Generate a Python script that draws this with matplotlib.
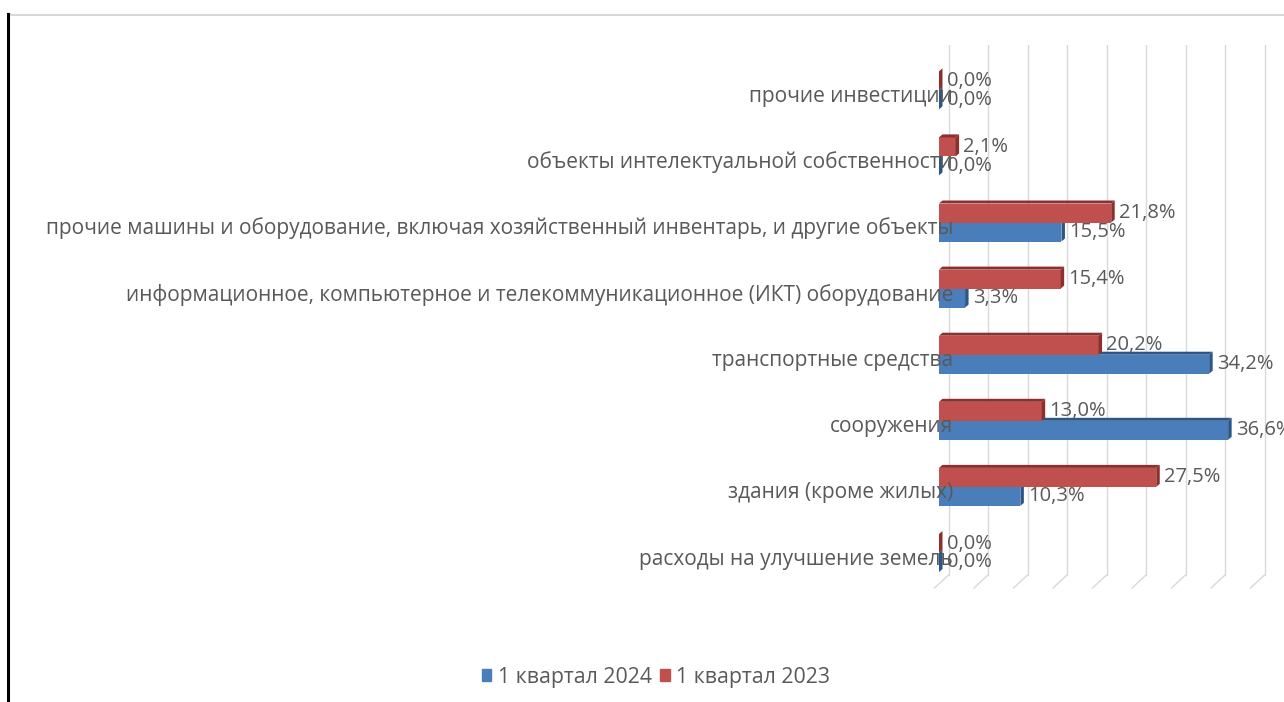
import matplotlib
matplotlib.use("Agg")
import matplotlib.pyplot as plt
from matplotlib.patches import Polygon
from matplotlib.transforms import ScaledTranslation
from matplotlib.lines import Line2D
import matplotlib.font_manager as fm

categories = [
    "расходы на улучшение земель",
    "здания (кроме жилых)",
    "сооружения",
    "транспортные средства",
    "информационное, компьютерное и телекоммуникационное (ИКТ) оборудование",
    "прочие машины и оборудование, включая хозяйственный инвентарь, и другие объекты",
    "объекты интелектуальной собственности",
    "прочие инвестиции",
]
q1_2024 = [0.0, 10.3, 36.6, 34.2, 3.3, 15.5, 0.0, 0.0]
q1_2023 = [0.0, 27.5, 13.0, 20.2, 15.4, 21.8, 2.1, 0.0]
series_names = ["1 квартал 2024", "1 квартал 2023"]
grid_ticks = [0, 5, 10, 15, 20, 25, 30, 35, 40]

BLUE, BLUE_D = "#4a7ebb", "#2c5687"
RED, RED_D = "#c0504d", "#8c2f2d"
TXT = "#595959"

names = {f.name for f in fm.fontManager.ttflist}
FONT = "Open Sans" if "Open Sans" in names else "DejaVu Sans"

W, H, DPI = 1284, 702, 100
fig = plt.figure(figsize=(W / DPI, H / DPI), dpi=DPI)

# frame decorations
fig.add_artist(Line2D([8 / W, 1], [1 - 14.5 / H] * 2, color="#d9d9d9", lw=1.5))
fig.add_artist(Line2D([8 / W] * 2, [0, 1 - 14 / H], color="black", lw=2.2))

x0_px, px_per = 939, 7.9
top_px, bot_px = 45, 590
row0_px, row_step = 553, 66.1
xmax = (W - x0_px) / px_per
ylo = (row0_px - bot_px) / row_step
yhi = (row0_px - top_px) / row_step
ax = fig.add_axes([x0_px / W, 1 - bot_px / H, 1 - x0_px / W, (bot_px - top_px) / H])
ax.set_xlim(0, xmax)
ax.set_ylim(ylo, yhi)
ax.axis("off")

# back wall gridlines and floor slants
off = ScaledTranslation(9.5 / DPI, 0, fig.dpi_scale_trans)
floor_y = ylo + 15 / row_step
for g in grid_ticks:
    ax.plot([g, g], [floor_y, yhi], color="#d9d9d9", lw=1.0, transform=ax.transData + off, zorder=0)
    ax.plot([g, g - 14 / px_per], [floor_y, ylo + 2 / row_step], color="#d9d9d9", lw=1.0,
            transform=ax.transData + off, zorder=0, clip_on=False)

bh = 19 / row_step
dx = 3.5 / px_per
dy = 3.0 / row_step

def bar3d(val, yc, face, dark, z):
    yb, yt = yc - bh / 2, yc + bh / 2
    ax.barh(yc, val, height=bh, left=0, color=face, edgecolor="none", zorder=z)
    top = Polygon([(0, yt), (val, yt), (val + dx, yt + dy), (dx, yt + dy)],
                  closed=True, facecolor=dark, edgecolor="none", zorder=z)
    side = Polygon([(val, yb), (val + dx, yb + dy), (val + dx, yt + dy), (val, yt)],
                   closed=True, facecolor=dark, edgecolor="none", zorder=z)
    ax.add_patch(top)
    ax.add_patch(side)

lab_off = 6 / row_step
for i, (b, r) in enumerate(zip(q1_2024, q1_2023)):
    yb = i - bh / 2
    yr = i + bh / 2
    bar3d(b, yb, BLUE, BLUE_D, 2)
    bar3d(r, yr, RED, RED_D, 3)
    ax.text(b + dx + 4 / px_per, yb, f"{b:.1f}%".replace(".", ","), ha="left", va="center",
            fontsize=14.5, color=TXT, family=FONT, zorder=5)
    ax.text(r + dx + 4 / px_per, yr, f"{r:.1f}%".replace(".", ","), ha="left", va="center",
            fontsize=14.5, color=TXT, family=FONT, zorder=5)
    ax.text(14 / px_per, i - lab_off, categories[i], ha="right", va="center", fontsize=15,
            color=TXT, family=FONT, zorder=6, clip_on=False)

# legend
handles = [plt.Rectangle((0, 0), 1, 1, color=BLUE), plt.Rectangle((0, 0), 1, 1, color=RED)]
fig.legend(handles, series_names, loc="center", bbox_to_anchor=(656 / W, 1 - 677 / H),
           ncol=2, frameon=False, prop={"family": FONT, "size": 15.3},
           handlelength=0.45, handleheight=0.45, handletextpad=0.3, columnspacing=0.4,
           labelcolor=TXT)

fig.savefig("out.png", dpi=DPI, facecolor="white")
